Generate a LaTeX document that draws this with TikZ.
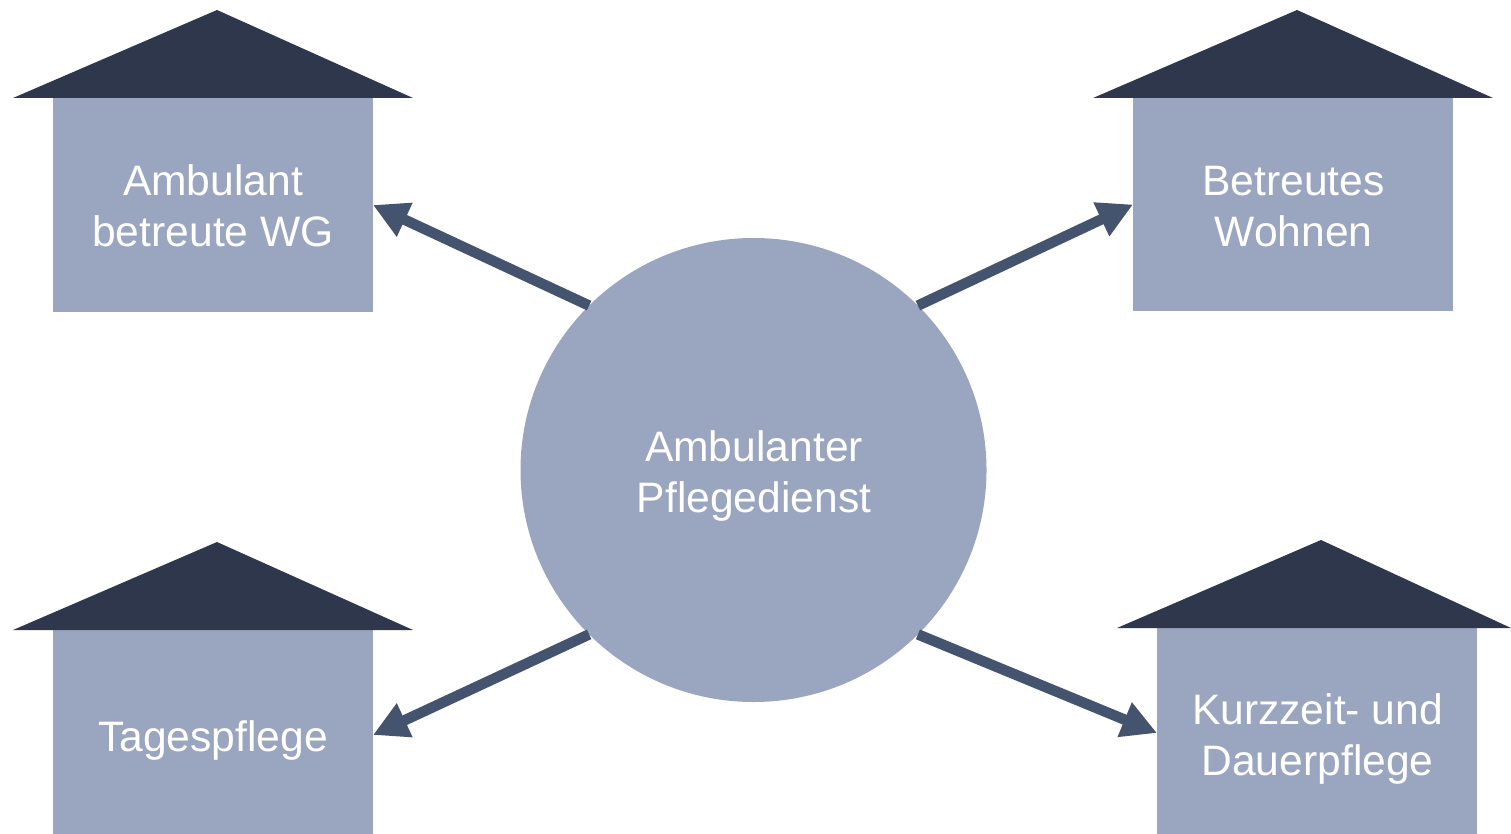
\documentclass[tikz,border=0pt]{standalone}
\usepackage{fontspec}
\setmainfont{Liberation Sans}
\usetikzlibrary{arrows.meta,shapes.geometric}
\definecolor{boxc}{HTML}{9AA5BF}
\definecolor{roofc}{HTML}{2E374B}
\definecolor{arrc}{HTML}{44546F}
\tikzset{x=1pt,y=-1pt,
 housebox/.style={fill=boxc,draw=none,inner sep=0pt,outer sep=0pt,minimum width=320pt},
 roof/.style={fill=roofc,draw=none},
 hub/.style={ellipse,fill=boxc,draw=none,inner sep=0pt,outer sep=0pt,minimum width=466pt,minimum height=464pt},
 caption/.style={inner sep=0pt,outer sep=0pt,text=white,align=center,font=\fontsize{42.6}{51}\selectfont},
 link/.style={draw=arrc,line width=10.5pt,-{Triangle[length=35pt,width=35pt]},shorten >=0pt}
}
\begin{document}
\begin{tikzpicture}
\useasboundingbox (0,0) rectangle (1511,834);
\fill[white] (0,0) rectangle (1511,834);
\node[hub] (c) at (753.5,470) {};
\node[housebox,minimum height=214pt] (a) at (213,205) {};
\node[housebox,minimum height=213pt] (b) at (1293,204.5) {};
\node[housebox,minimum height=204pt] (d) at (213,732) {};
\node[housebox,minimum height=206pt] (e) at (1317,731) {};
\node[caption] (ct) at (754,476) {Ambulanter\\Pflegedienst};
\node[caption] (at) at (213,206) {Ambulant\\betreute WG};
\node[caption] (bt) at (1293.5,206.5) {Betreutes\\Wohnen};
\node[caption] (dt) at (213,740) {Tagespflege};
\node[caption] (et) at (1317.5,739) {Kurzzeit- und\\Dauerpflege};
\fill[roof] (13,98) -- (217,10) -- (413,98) -- cycle;
\fill[roof] (1093,98) -- (1297,10) -- (1493,98) -- cycle;
\fill[roof] (13,630) -- (217,542) -- (413,630) -- cycle;
\fill[roof] (1117,628) -- (1321,540) -- (1511,628) -- cycle;
\draw[link] (c.135) -- (a.east);
\draw[link] (c.45) -- (b.west);
\draw[link] (c.225) -- ([yshift=-3pt]d.east);
\draw[link] (c.315) -- ([yshift=-2pt]e.west);
\end{tikzpicture}
\end{document}
